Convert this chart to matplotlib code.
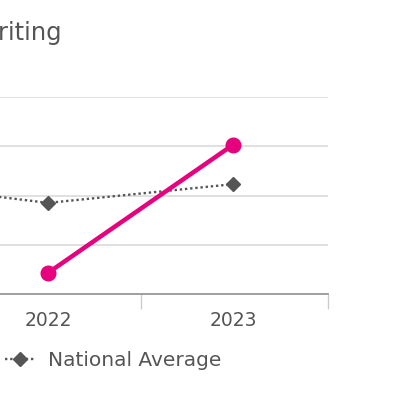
import matplotlib
matplotlib.use("Agg")
import matplotlib.pyplot as plt
from matplotlib.ticker import FixedLocator
import numpy as np

plt.rcParams["font.family"] = ["DejaVu Sans"]

years = ["2021", "2022", "2023"]
school = [np.nan, 4.3, 30.3]
national = [23.1, 18.5, 22.3]
y_ticks = [0, 10, 20, 30, 40]

pink = "#e6007e"
grey = "#555555"
text_col = "#555555"

fig = plt.figure(figsize=(4.0, 3.98), dpi=100)
W, H = 400, 398
# axes deliberately run past the left edge (the picture is a crop)
ax = fig.add_axes([-229.5 / W, 104 / H, 557 / W, 197 / H])

x = np.arange(len(years))
ax.plot(x, school, color=pink, lw=3.2, marker="o", ms=10.5, zorder=4)
nat_line, = ax.plot(x, national, color=grey, lw=1.7, ls=(0, (1, 1.2)),
                    marker="D", ms=7.5, zorder=3, label="National Average")

ax.set_xlim(-0.5, len(years) - 0.49)
ax.set_ylim(y_ticks[0], y_ticks[-1])
ax.set_yticks(y_ticks)
ax.yaxis.grid(True, color="#dddddd", lw=1.3)
ax.set_axisbelow(True)
ax.tick_params(axis="y", length=0, labelleft=False)

ax.set_xticks(x)
ax.set_xticklabels(years, fontsize=13.5, color=text_col)
ax.tick_params(axis="x", which="major", length=0, pad=12)
ax.xaxis.set_minor_locator(FixedLocator(list(x[:-1] + 0.5) + [len(years) - 0.49]))
ax.tick_params(axis="x", which="minor", length=11, width=1, color="#cccccc")

for s in ["top", "left", "right"]:
    ax.spines[s].set_visible(False)
ax.spines["bottom"].set_color("#999999")
ax.spines["bottom"].set_linewidth(1.3)

# title: only "riting" shows in the crop, the W sits just left of the edge
renderer = fig.canvas.get_renderer()
probe = fig.text(0, 0, "W", fontsize=17.5)
w_px = probe.get_window_extent(renderer).width
probe.remove()
fig.text(-(w_px + 1) / W, 358 / H, "Writing", ha="left", va="baseline", fontsize=17.5, color=text_col)

fig.legend(handles=[nat_line], loc="center left", bbox_to_anchor=(5 / W, 37 / H),
           frameon=False, fontsize=14.5, labelcolor=text_col, handlelength=1.5,
           handletextpad=0.65, borderpad=0, borderaxespad=0)

fig.savefig("out.png", dpi=100)
